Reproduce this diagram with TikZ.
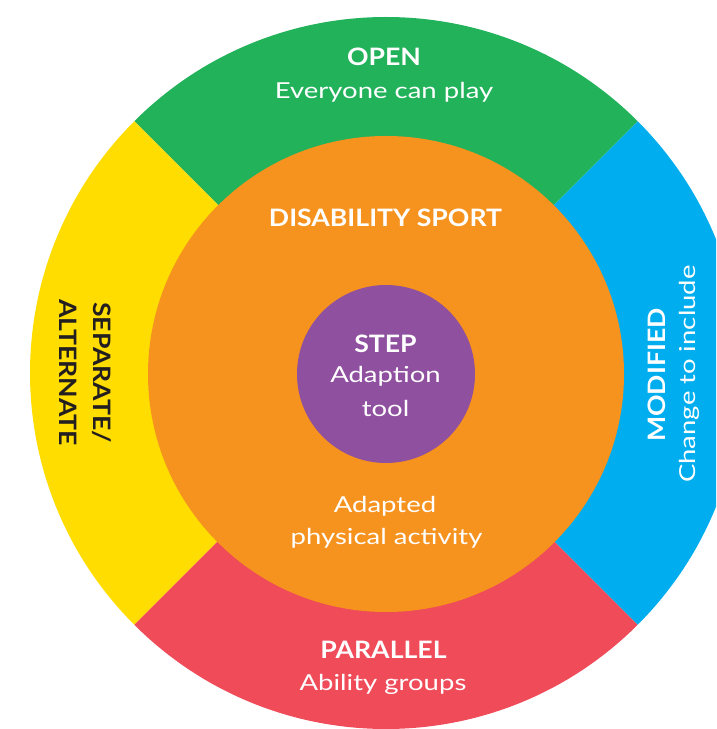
\documentclass[tikz,border=0pt]{standalone}
\usepackage{fontspec}
\setmainfont{Lato}[FakeStretch=1.25, BoldFeatures={FakeStretch=1.11}]
\definecolor{cgreen}{HTML}{21B25A}
\definecolor{cyellow}{HTML}{FFDD00}
\definecolor{cblue}{HTML}{00AEEF}
\definecolor{cred}{HTML}{EF4B59}
\definecolor{corange}{HTML}{F6921E}
\definecolor{cpurple}{HTML}{8F509F}
\definecolor{cdark}{HTML}{231F20}
\tikzset{
  boldlbl/.style={inner sep=0pt, anchor=base, text=white, font=\fontsize{24}{28}\selectfont\bfseries},
  reglbl/.style={inner sep=0pt, anchor=base, text=white, font=\fontsize{22}{26}\selectfont},
  disc/.style={circle, inner sep=0pt, draw=none}
}
\begin{document}
\begin{tikzpicture}[x=1pt,y=1pt]
\useasboundingbox (0,0) rectangle (716,729);
\clip (0,0) rectangle (716,729);
\coordinate (c) at (386,356);
% outer ring sectors
\fill[cgreen]  (c) -- +(45:356)  arc[start angle=45,  end angle=135, radius=356] -- cycle;
\fill[cyellow] (c) -- +(135:356) arc[start angle=135, end angle=225, radius=356] -- cycle;
\fill[cred]    (c) -- +(225:356) arc[start angle=225, end angle=315, radius=356] -- cycle;
\fill[cblue]   (c) -- +(315:356) arc[start angle=315, end angle=405, radius=356] -- cycle;
% inner discs
\node[disc, fill=corange, minimum size=476pt] (sport) at (386,355) {};
\node[disc, fill=cpurple, minimum size=178pt] (step) at (386,355) {};
% labels
\node[boldlbl] (open) at (384,663) {OPEN};
\node[reglbl] (openb) at (384,630) {Everyone can play};
\node[boldlbl] (ds) at (385.5,502) {DISABILITY SPORT};
\node[boldlbl] (stept) at (385.5,376) {STEP};
\node[reglbl] (stepb) at (385.5,346) {Adaption};
\node[reglbl] (stepc) at (385.5,312) {tool};
\node[reglbl] (apa) at (385,216) {Adapted};
\node[reglbl] (apb) at (386.5,184.5) {physical activity};
\node[boldlbl] (par) at (383.5,70) {PARALLEL};
\node[reglbl] (parb) at (383,38) {Ability groups};
\node[boldlbl, text=cdark, anchor=base west, rotate=-90] (sep) at (93,427) {SEPARATE/};
\node[boldlbl, text=cdark, anchor=base west, rotate=-90] (alt) at (59,430) {ALTERNATE};
\node[boldlbl, rotate=90] (mod) at (665,354) {MODIFIED};
\node[reglbl, rotate=90] (modb) at (695,355) {Change to include};
\end{tikzpicture}
\end{document}
